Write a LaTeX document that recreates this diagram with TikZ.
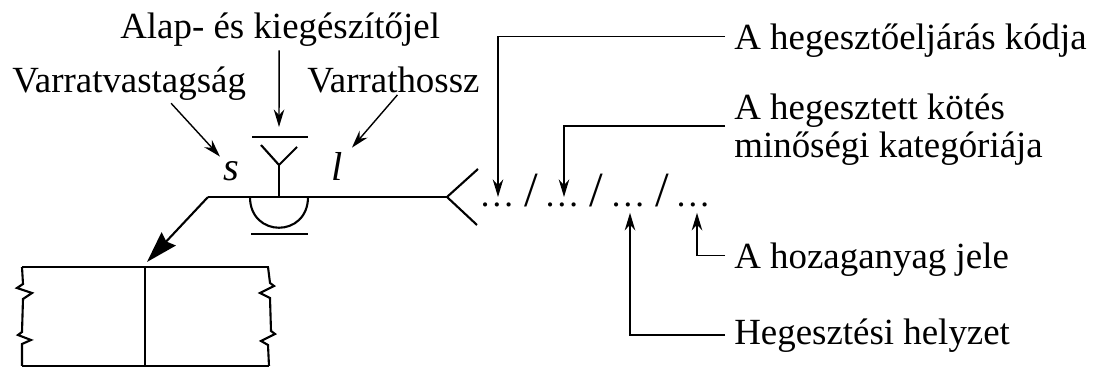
\documentclass[tikz,border=0pt]{standalone}
\usepackage{fontspec}
\setmainfont{Liberation Serif}
\usetikzlibrary{arrows.meta}
\tikzset{
    cimke/.style={anchor=base west, inner sep=0, font=\fontsize{21}{21.6}\selectfont, align=left},
    jel/.style={anchor=base, inner sep=0, font=\fontsize{20}{22}\selectfont},
    betu/.style={anchor=base, inner sep=0, font=\fontsize{23}{24}\selectfont\itshape},
    per/.style={anchor=base, inner sep=0, font=\fontsize{28}{30}\selectfont},
    vonal/.style={line width=1.2pt},
    nyil/.style={line width=0.8pt, -{Stealth[length=10pt,width=6pt]}}
}

\begin{document}
\begin{tikzpicture}[x=0.02cm, y=-0.02cm]
    \useasboundingbox (0, 0) rectangle (1096, 367);

    % feliratok
    \node[cimke] (alap) at (120, 39) {Alap- és kiegészítőjel};
    \node[cimke] (vastag) at (12, 93) {Varratvastagság};
    \node[cimke] (hossz) at (307, 93) {Varrathossz};
    \node[cimke] (kod) at (734, 50) {A hegesztőeljárás kódja};
    \node[cimke, anchor=west] (kat) at (734, 129.5) {A hegesztett kötés\\minőségi kategóriája};
    \node[cimke] (anyag) at (734, 269) {A hozaganyag jele};
    \node[cimke] (helyzet) at (734, 345) {Hegesztési helyzet};

    \node[betu] (s) at (231, 181) {s};
    \node[betu] (l) at (337, 181) {l};

    % pontok es per jelek
    \node[jel] (p1) at (497, 207) {\ldots};
    \node[jel] (p2) at (562, 207) {\ldots};
    \node[jel] (p3) at (628, 207) {\ldots};
    \node[jel] (p4) at (693, 207) {\ldots};
    \node[per] (v1) at (531, 207) {/};
    \node[per] (v2) at (596, 207) {/};
    \node[per] (v3) at (662, 207) {/};

    % hegesztesi jel
    \coordinate (tor) at (208, 197);
    \coordinate (villa) at (447, 197);
    \coordinate (felso) at (279, 137);
    \coordinate (varrat) at (145, 267);

    \draw[vonal] (tor) -- (villa);
    \draw[vonal] (478, 169) -- (villa) -- (477, 225);
    \draw[vonal] (252, 137) -- (308, 137);
    \draw[vonal] (251, 234) -- (308, 234);
    \draw[vonal] (261, 145) -- (279, 165) -- (297, 147);
    \draw[vonal] (279, 165) -- (279, 197);
    \draw[vonal] (250, 197) .. controls (250, 238) and (308, 238) .. (308, 197);
    \draw[vonal, -{Stealth[length=18pt,width=11pt,inset=2pt]}] (tor) -- (147, 262);

    % lemezek
    \draw[vonal] (22, 267) -- (269, 267);
    \draw[vonal] (22, 366) -- (269, 366);
    \draw[vonal] (varrat) -- (145, 366);
    \draw[vonal] (22, 267) -- (23, 284) -- (17, 288) -- (32, 293) -- (23, 299) -- (22, 332) -- (18, 335) -- (31, 340) -- (22, 344) -- (22, 366);
    \draw[vonal] (268, 267) -- (270, 283) -- (274, 286) -- (260, 293) -- (270, 298) -- (271, 331) -- (275, 334) -- (261, 341) -- (268, 345) -- (269, 366);

    % mutato vonalak
    \draw[nyil] ([shift={(-1, 3)}]alap.south) -- ([shift={(0, -10)}]felso);
    \draw[nyil] ([shift={(42, 2)}]vastag.south) -- ([shift={(-11, -5)}]s.north);
    \draw[nyil] ([shift={(4, 1)}]hossz.south) -- ([shift={(15, -5)}]l.north);
    \draw[nyil] ([shift={(-9, -4.5)}]kod.west) -| ([shift={(1, -6)}]p1.north);
    \draw[nyil] ([shift={(-9, -3.5)}]kat.west) -| ([shift={(2, -6)}]p2.north);
    \draw[nyil] ([shift={(-9, -4.5)}]anyag.west) -| ([shift={(4, 5)}]p4.south);
    \draw[nyil] ([shift={(-9, -1)}]helyzet.west) -| ([shift={(2, 5)}]p3.south);
\end{tikzpicture}
\end{document}
